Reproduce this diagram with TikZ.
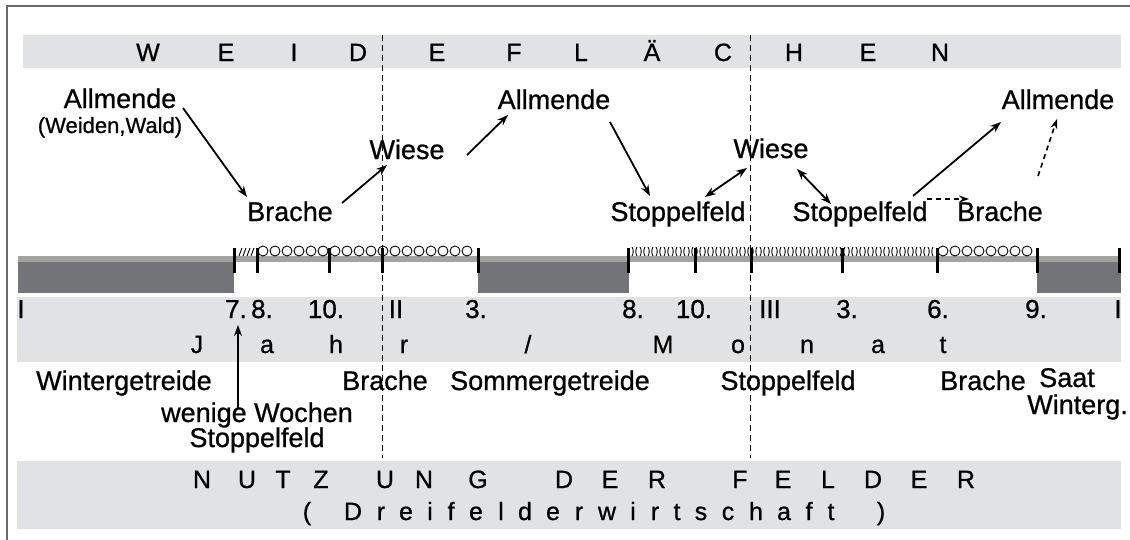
\documentclass[tikz,border=0pt]{standalone}
\usepackage{fontspec}
\setmainfont{Liberation Sans}[FakeBold=0.8]
\usetikzlibrary{arrows.meta}
\definecolor{bandgray}{RGB}{225,226,228}
\definecolor{stripgray}{RGB}{163,163,163}
\definecolor{darkblock}{RGB}{115,116,120}
\definecolor{framegray}{RGB}{105,105,105}
\begin{document}
\begin{tikzpicture}[x=1pt,y=-1pt,
  lbl/.style={anchor=base,inner sep=0pt,font=\fontsize{27}{30}\selectfont},
  smalllbl/.style={anchor=base,inner sep=0pt,font=\fontsize{22}{26}\selectfont},
  bandtxt/.style={anchor=base,inner sep=0pt,font=\fontsize{25}{28}\selectfont},
  numtxt/.style={anchor=base,inner sep=0pt,font=\fontsize{26}{28}\selectfont},
  arr/.style={line width=1.8pt,-{Stealth[length=11pt,width=8pt]}},
  darr/.style={line width=1.8pt,{Stealth[length=11pt,width=8pt]}-{Stealth[length=11pt,width=8pt]}},
  dasharr/.style={line width=1.6pt,dash pattern=on 5pt off 4pt,-{Stealth[length=10pt,width=7pt]}},
  sepline/.style={line width=1pt,dash pattern=on 6pt off 4pt},
  tickline/.style={line width=3pt},
  patt/.style={line width=0.9pt},
]
\useasboundingbox (0,0) rectangle (1130,539);
\fill[white] (0,0) rectangle (1130,539);
% frame
\draw[framegray,line width=2pt] (7,560) -- (7,6) -- (1150,6);
% bands
\fill[bandgray] (23,35) rectangle (1121,68);
\fill[bandgray] (17,297) rectangle (1121,362);
\fill[bandgray] (17,461) rectangle (1121,529);
% strip and blocks
\fill[stripgray] (18,256) rectangle (1121,262);
\fill[darkblock] (18,262) rectangle (234,293);
\fill[darkblock] (478,262) rectangle (629,293);
\fill[darkblock] (1037,262) rectangle (1121,293);
% patterns
\foreach \x in {240,244,248,252} \draw[patt] (\x-1,256) .. controls (\x+1,253) and (\x,251) .. (\x+2,248);
\foreach \k in {0,...,17} \draw[patt] (263+12*\k,251) circle[radius=5];
\foreach \k in {0,...,7} \draw[patt] (943+12*\k,251) circle[radius=5];
\foreach \x in {632,640,...,932} \draw[patt] (\x,256) .. controls (\x+1.6,253.5) and (\x+1.6,249.5) .. (\x,247);
\foreach \x in {636,644,...,932} \draw[patt] (\x+1,256) .. controls (\x-0.6,253.5) and (\x-0.6,249.5) .. (\x+1,247);
% ticks
\foreach \x in {234,257,329,382,478,628,695,751,842,937,1037,1119} \draw[tickline] (\x,248) -- (\x,273);
% top band letters
\foreach \c/\x [count=\i] in {W/148,E/226,I/294,D/358,E/437,F/514,L/581,Ä/652,C/723,H/794,E/868,N/940}
  \node[bandtxt,name=tw\i] at (\x,61) {\c};
% numbers
\foreach \c/\x [count=\i] in {I/21,7./236,8./262,10./326,II/396,3./476,8./633,10./694,III/770,3./847,6./938,9./1036,I/1118}
  \node[numtxt,name=n\i] at (\x,318) {\c};
% Jahr / Monat
\foreach \c/\x [count=\i] in {J/197,a/267,h/336,r/404,M/663,o/738,n/807,a/878,t/943}
  \node[bandtxt,name=jm\i] at (\x,353) {\c};
\node[bandtxt] (slash) at (528,353) {/};
% NUTZUNG DER FELDER
\foreach \c/\x [count=\i] in {N/202,U/247,T/283,Z/321,U/385,N/424,G/478,D/564,E/610,R/657,F/740,E/783,L/828,D/873,E/919,R/966}
  \node[bandtxt,name=nu\i] at (\x,488) {\c};
% ( Dreifelderwirtschaft )
\node[bandtxt] (lpar) at (307,520) {(};
\foreach \c/\x [count=\i] in {D/353,r/381,e/406,i/430,f/451,e/476,l/501,d/525,e/553,r/579,w/607,i/633,r/655,t/677,s/701,c/728,h/756,a/784,f/809,t/831}
  \node[bandtxt,name=dw\i] at (\x,520) {\c};
\node[bandtxt] (rpar) at (881,520) {)};
% upper labels
\node[lbl] (al1) at (120,108) {Allmende};
\node[smalllbl] (ww) at (110,133) {(Weiden,Wald)};
\node[lbl] (br1) at (290,221) {Brache};
\node[lbl] (wi1) at (407,159) {Wiese};
\node[lbl] (al2) at (554,109) {Allmende};
\node[lbl] (st1) at (678,221) {Stoppelfeld};
\node[lbl] (wi2) at (771,158) {Wiese};
\node[lbl] (st2) at (860,221) {Stoppelfeld};
\node[lbl] (br2) at (1000,221) {Brache};
\node[lbl] (al3) at (1058,109) {Allmende};
% lower labels
\node[lbl] (wg) at (124,390) {Wintergetreide};
\node[lbl] (wen) at (257,422) {wenige Wochen};
\node[lbl] (stl) at (257,447) {Stoppelfeld};
\node[lbl] (brl) at (385,390) {Brache};
\node[lbl] (sg) at (550,390) {Sommergetreide};
\node[lbl] (str) at (788,390) {Stoppelfeld};
\node[lbl] (brr) at (983,390) {Brache};
\node[lbl] (saat) at (1067,387) {Saat};
\node[lbl,anchor=base east] (wtg) at (1128,414) {Winterg.};
% separators
\draw[sepline] (382.5,35) -- (382.5,458);
\draw[sepline] (750.5,35) -- (750.5,458);
% arrows
\draw[arr] ([xshift=63pt,yshift=0pt]al1.base) -- ([xshift=-43pt,yshift=24pt]br1.base);
\draw[arr] ([xshift=52pt,yshift=18pt]br1.base) -- ([xshift=-20pt,yshift=-6pt]wi1.base);
\draw[arr] ([xshift=60pt,yshift=4pt]wi1.base) -- ([xshift=-46pt,yshift=-6pt]al2.base);
\draw[arr] ([xshift=56pt,yshift=-13pt]al2.base) -- ([xshift=-28pt,yshift=25pt]st1.base);
\draw[darr] ([xshift=27pt,yshift=24pt]st1.base) -- ([xshift=-24pt,yshift=-10pt]wi2.base);
\draw[darr] ([xshift=26pt,yshift=-11pt]wi2.base) -- ([xshift=-29pt,yshift=17pt]st2.base);
\draw[arr] ([xshift=53pt,yshift=25pt]st2.base) -- ([xshift=-57pt,yshift=-13pt]al3.base);
\draw[dasharr] ([xshift=67pt,yshift=22pt]st2.base) -- ([xshift=-31pt,yshift=22pt]br2.base);
\draw[dasharr] ([xshift=38pt,yshift=45pt]br2.base) -- ([xshift=-1pt,yshift=-10pt]al3.base);
\draw[arr] ([xshift=-19pt,yshift=14pt]wen.base) -- ([xshift=2pt,yshift=-7pt]n2.base);
\end{tikzpicture}
\end{document}
